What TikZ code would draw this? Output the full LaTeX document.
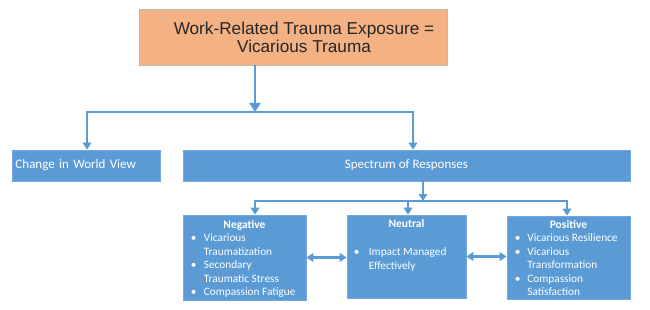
\documentclass[tikz,border=0pt]{standalone}
\usepackage{fontspec}
\setmainfont{Carlito}
\newfontfamily\arialfont{Liberation Sans}
\usepackage{tikz}
\usetikzlibrary{positioning,arrows.meta}
\definecolor{boxblue}{HTML}{5B9BD5}
\definecolor{boxorange}{HTML}{F4B183}
\definecolor{darktext}{HTML}{262626}
\newcommand{\bitem}[1][13pt]{\makebox[#1][l]{\textbullet}}
\newcommand{\bcont}[1][13pt]{\hspace*{#1}}

\begin{document}
\begin{tikzpicture}[
  x=1pt, y=-1pt,
  bluebox/.style={rectangle,fill=boxblue,draw=boxblue!85!white,line width=0.6pt,inner sep=0pt,text=white},
  bigtxt/.style={font=\fontsize{13}{15}\selectfont},
  headtxt/.style={font=\fontsize{11.5}{13.5}\selectfont\bfseries,text=white,inner sep=0pt},
  listtxt/.style={font=\fontsize{11.3}{13.5}\selectfont,text=white,align=left,inner sep=0pt},
  link/.style={boxblue,line width=2.8pt,line cap=rect},
  flow/.style={boxblue,line width=2.8pt,-{Triangle[width=8.5pt,length=7pt]}},
  bigflow/.style={boxblue,line width=2.8pt,-{Triangle[width=11pt,length=9pt]}},
  twoway/.style={boxblue,line width=2.8pt,{Triangle[width=8.5pt,length=7pt]}-{Triangle[width=8.5pt,length=7pt]}}
]
  \useasboundingbox (0,0) rectangle (650,310);

  \node[rectangle,fill=boxorange,draw=gray!55,line width=0.6pt,minimum width=308pt,minimum height=56pt,inner sep=0pt] (top) at (293,37) {};
  \node[font=\arialfont\fontsize{17.2}{18}\selectfont,text=darktext,align=center,inner sep=0pt] (toptxt) at (304,37) {Work-Related Trauma Exposure =\\Vicarious Trauma};

  \node[bluebox,bigtxt,minimum width=148pt,minimum height=31pt,text width=141pt,inner xsep=3.5pt,align=left] (change) at (86,165.5) {Change in World View};
  \node[bluebox,bigtxt,minimum width=447pt,minimum height=31pt,align=center] (spec) at (406.5,165.5) {Spectrum of Responses};

  \node[bluebox,minimum width=123pt,minimum height=85pt] (neg) at (244.5,257.5) {};
  \node[bluebox,minimum width=119pt,minimum height=83pt] (neu) at (406.5,256.5) {};
  \node[bluebox,minimum width=123pt,minimum height=83pt] (pos) at (568.5,257.5) {};

  \node[headtxt,below=6pt of neg.north] (neghead) {Negative};
  \node[headtxt,below=4.5pt of neu.north] (neuhead) {Neutral};
  \node[headtxt,below=4.5pt of pos.north] (poshead) {Positive};

  \node[listtxt,below right=19pt and 8pt of neg.north west] (neglist)
    {\bitem Vicarious\\\bcont Traumatization\\\bitem Secondary\\\bcont Traumatic Stress\\\bitem Compassion Fatigue};
  \node[listtxt,below right=33pt and 7pt of neu.north west] (neulist)
    {\bitem[15pt]Impact Managed\\\bcont[15pt]Effectively};
  \node[listtxt,below right=18pt and 8pt of pos.north west] (poslist)
    {\bitem[12.5pt]Vicarious Resilience\\\bitem[12.5pt]Vicarious\\\bcont[12.5pt]Transformation\\\bitem[12.5pt]Compassion\\\bcont[12.5pt]Satisfaction};

  \coordinate (split) at (255,112);
  \coordinate (splitl) at (87,112);
  \coordinate (splitr) at (413,112);
  \draw[bigflow] (top.south -| split) -- (split);
  \draw[link] (splitl) -- (splitr);
  \draw[flow] (splitl) -- (change.north -| splitl);
  \draw[flow] (splitr) -- (spec.north -| splitr);

  \coordinate (fork) at (423,201);
  \coordinate (forkl) at (255,201);
  \coordinate (forkm) at (408,201);
  \coordinate (forkr) at (567,201);
  \draw[flow] (spec.south -| fork) -- (fork);
  \draw[link] (forkl) -- (forkr);
  \draw[flow] (forkl) -- (neg.north -| forkl);
  \draw[flow] (forkm) -- (neu.north -| forkm);
  \draw[flow] (forkr) -- (pos.north -| forkr);

  \draw[twoway] (neg.east) -- (neg.east -| neu.west);
  \draw[twoway] (neu.east) -- (neu.east -| pos.west);
\end{tikzpicture}
\end{document}
